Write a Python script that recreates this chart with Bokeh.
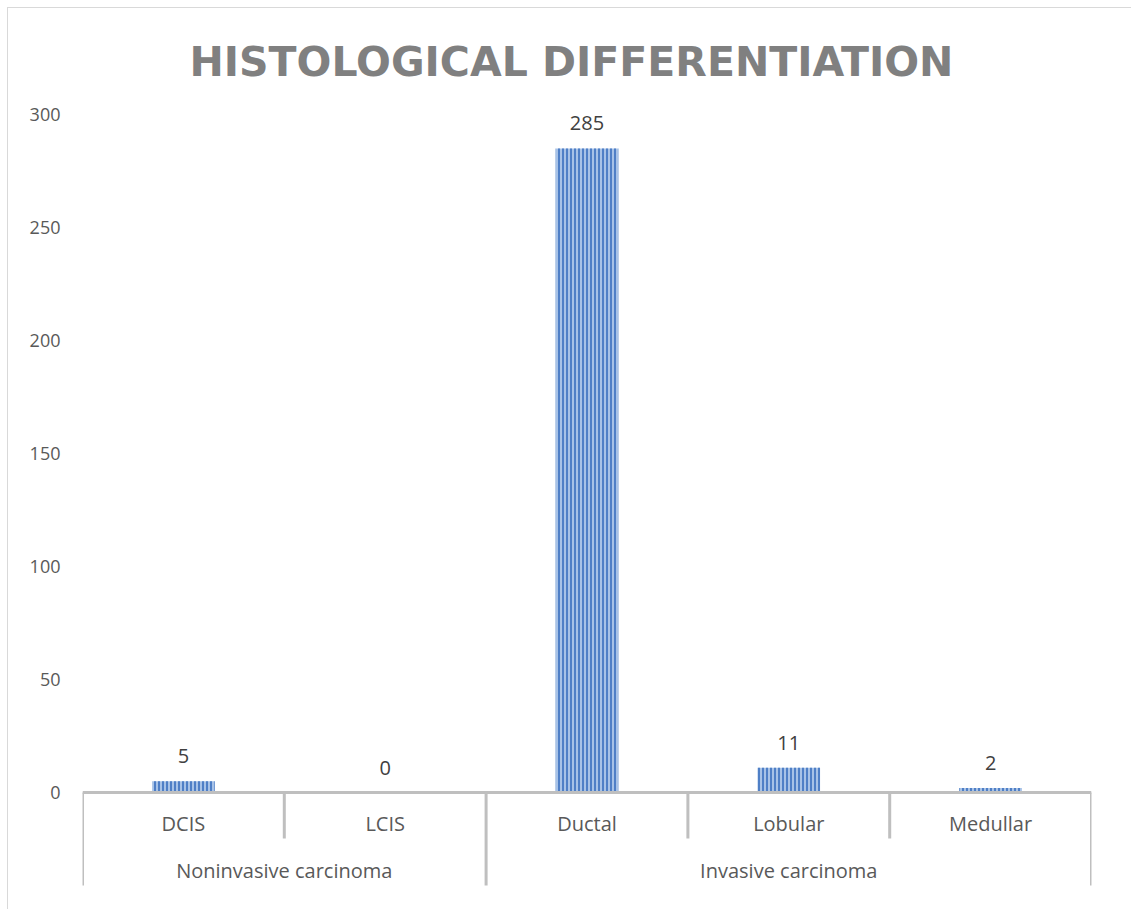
from bokeh.plotting import figure
from bokeh.models import ColumnDataSource, FixedTicker, Range1d
from bokeh.core.properties import value
from bokeh.embed import file_html
from bokeh.resources import INLINE

# Histological types, the group each belongs to, and case counts
groups = ["Noninvasive carcinoma", "Invasive carcinoma"]
types = ["DCIS", "LCIS", "Ductal", "Lobular", "Medullar"]
type_group = [0, 0, 1, 1, 1]
counts = [5, 0, 285, 11, 2]
y_ticks = [0, 50, 100, 150, 200, 250, 300]

FONT = "Open Sans"
LABEL_GREY = "#595959"
LINE_GREY = "#bfbfbf"

n = len(types)
centers = [i + 0.5 for i in range(n)]

p = figure(
    width=1124, height=902,
    x_range=Range1d(0, n), y_range=Range1d(-43.8, 301.8),
    output_backend="svg", toolbar_location=None,
    min_border_left=74, min_border_right=41,
    min_border_top=102, min_border_bottom=19,
)
p.styles = {"margin-left": "7px", "margin-top": "7px",
            "border-left": "1px solid #d9d9d9", "border-top": "1px solid #d9d9d9",
            "border-right": "none", "border-bottom": "none"}
p.outline_line_color = None
p.border_fill_color = "white"
p.xgrid.visible = False
p.ygrid.visible = False
p.xaxis.visible = False

# value axis: labels only
p.yaxis.ticker = FixedTicker(ticks=y_ticks)
p.yaxis.axis_line_color = None
p.yaxis.major_tick_line_color = None
p.yaxis.minor_tick_line_color = None
p.yaxis.major_tick_out = 0
p.yaxis.major_label_standoff = 22
p.yaxis.major_label_text_font = FONT
p.yaxis.major_label_text_font_size = "18px"
p.yaxis.major_label_text_color = LABEL_GREY

# title
p.title.text = "HISTOLOGICAL DIFFERENTIATION"
p.title.text_font = "DejaVu Sans"
p.title.text_font_style = "bold"
p.title.text_font_size = "41px"
p.title.text_color = "#808080"
p.title.align = "left"
p.title.offset = 107
p.title.standoff = 50

# bars with vertical stripe fill
src = ColumnDataSource(dict(x=centers, top=counts, label=[str(c) for c in counts]))
p.vbar(x="x", top="top", bottom=0, width=0.31, source=src,
       fill_color="#a7c2e7", line_color=None,
       hatch_pattern="vertical_line", hatch_color="#4f7fc6",
       hatch_scale=4, hatch_weight=2)

# value labels above bars
p.text(x="x", y="top", text="label", source=src,
       text_font=value(FONT), text_font_size="20px", text_color="#404040",
       text_align="center", text_baseline="bottom", y_offset=-18)

# category table below the axis
inner_depth = -20.4
outer_depth = -41.2
p.segment(x0=[0], y0=[0], x1=[n], y1=[0], line_color=LINE_GREY, line_width=3)

bx, by0, by1 = [], [], []
for i in range(n + 1):
    is_group_edge = i == 0 or i == n or type_group[i - 1] != type_group[i]
    bx.append(i)
    by0.append(0)
    by1.append(outer_depth if is_group_edge else inner_depth)
p.segment(x0=bx, y0=by0, x1=bx, y1=by1, line_color=LINE_GREY, line_width=3)

p.text(x=centers, y=[-13.9] * n, text=types,
       text_font=value(FONT), text_font_size="20px", text_color=LABEL_GREY,
       text_align="center", text_baseline="middle")

group_x = []
for g in range(len(groups)):
    members = [centers[i] for i in range(n) if type_group[i] == g]
    group_x.append(sum(members) / len(members))
p.text(x=group_x, y=[-34.5] * len(groups), text=groups,
       text_font=value(FONT), text_font_size="20px", text_color=LABEL_GREY,
       text_align="center", text_baseline="middle")

open("out.html", "w").write(file_html(p, INLINE))
